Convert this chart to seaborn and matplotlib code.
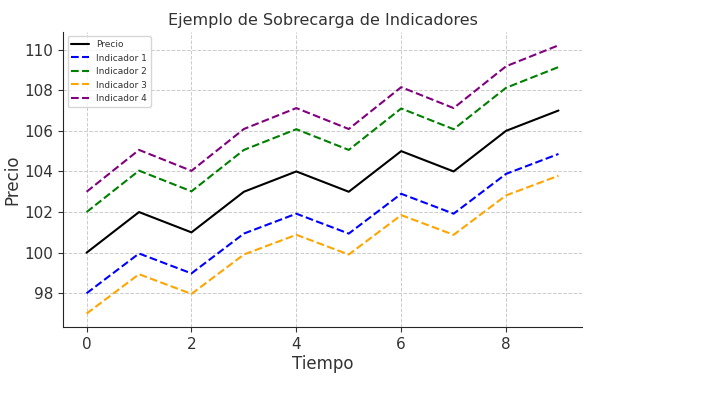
import numpy as np
import pandas as pd
import matplotlib
matplotlib.use("Agg")
import matplotlib.pyplot as plt
import seaborn as sns

tiempo = list(range(10))
precio = [100, 102, 101, 103, 104, 103, 105, 104, 106, 107]
indicador_1 = [98.0, 99.96, 98.98, 100.94, 101.92, 100.94, 102.9, 101.92, 103.88, 104.86]
indicador_2 = [102.0, 104.04, 103.02, 105.06, 106.08, 105.06, 107.1, 106.08, 108.12, 109.14]
indicador_3 = [97.0, 98.94, 97.97, 99.91, 100.88, 99.91, 101.85, 100.88, 102.82, 103.79]
indicador_4 = [103.0, 105.06, 104.03, 106.09, 107.12, 106.09, 108.15, 107.12, 109.18, 110.21]

series = [
    ("Precio", precio, "black", "-"),
    ("Indicador 1", indicador_1, "blue", "--"),
    ("Indicador 2", indicador_2, "green", "--"),
    ("Indicador 3", indicador_3, "orange", "--"),
    ("Indicador 4", indicador_4, "purple", "--"),
]

sns.set_style("ticks")
plt.rcParams["font.family"] = ["DejaVu Sans"]

fig = plt.figure(figsize=(7.24, 3.94), dpi=100)
ax = fig.add_axes([0.087, 0.170, 0.717, 0.749])

for name, vals, color, ls in series:
    df = pd.DataFrame({"Tiempo": tiempo, "Precio": vals})
    sns.lineplot(data=df, x="Tiempo", y="Precio", color=color, linestyle=ls,
                 linewidth=1.5, label=name, ax=ax)

ax.grid(True, linestyle="--", color="#cccccc", linewidth=0.7)
sns.despine(ax=ax)
ax.set_xticks([0, 2, 4, 6, 8])
ax.set_yticks([98, 100, 102, 104, 106, 108, 110])
ax.tick_params(labelsize=11, colors="#333333", labelcolor="#333333")
ax.set_xlabel("Tiempo", fontsize=12, color="#333333", labelpad=2)
ax.set_ylabel("Precio", fontsize=12, color="#333333", labelpad=2)
ax.set_title("Ejemplo de Sobrecarga de Indicadores", fontsize=11.5, color="#333333", pad=5)
leg = ax.legend(loc="upper left", fontsize=6.5, frameon=True)
for t in leg.get_texts():
    t.set_color("#333333")

fig.savefig("out.png", dpi=100)
